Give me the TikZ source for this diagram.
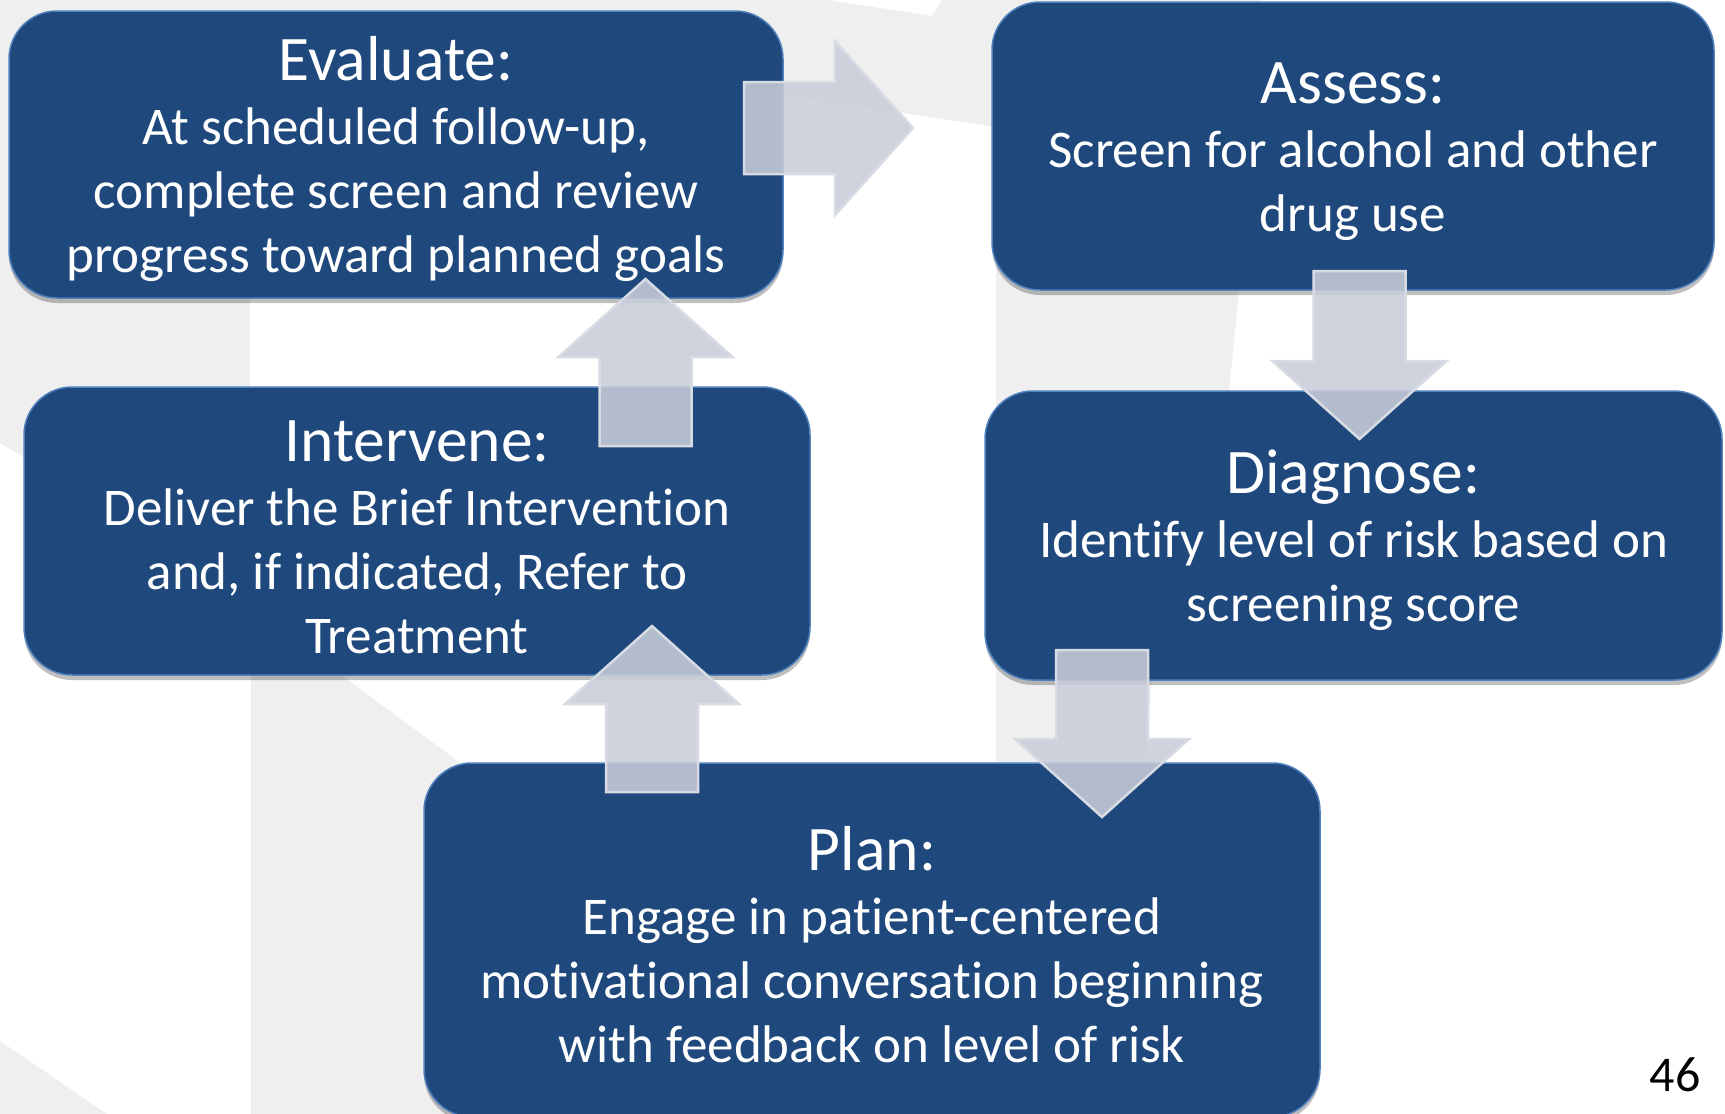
\documentclass[tikz,border=0pt]{standalone}
\usepackage{fontspec}
\setmainfont{Carlito}[Ligatures={NoCommon}]
\usetikzlibrary{positioning,calc,shadows}
\definecolor{boxblue}{HTML}{1F497D}
\definecolor{boxedge}{HTML}{4F81BD}
\definecolor{arrowgray}{HTML}{C8CDD9}
\definecolor{arrowedge}{HTML}{D8DBE3}
\definecolor{watermark}{HTML}{EFEFEF}
\newcommand{\stagetitle}[1]{{\fontsize{63.5}{64}\selectfont\rule{0pt}{53pt}#1}}

\begin{document}
\begin{tikzpicture}[
    x=1pt, y=-1pt,
    font=\fontsize{53}{64}\selectfont,
    block/.style={draw=boxedge, fill=boxblue, line width=1.5pt, rounded corners=48pt, text=white, align=center, inner sep=0pt, outer sep=0pt, drop shadow={shadow xshift=0pt, shadow yshift=-5pt, opacity=0.25, fill=black}},
    bigarrow/.style={fill=arrowgray, draw=arrowedge, line width=2.5pt, fill opacity=0.88,
        to path={let \p1=(\tikztostart), \p2=(\tikztotarget),
            \n1={veclen(\x2-\x1,\y2-\y1)}, \n2={atan2(\y2-\y1,\x2-\x1)} in
            {[shift={(\p1)}, rotate=\n2] (0,-46) -- (\n1-78,-46) -- (\n1-78,-87) -- (\n1,0) -- (\n1-78,87) -- (\n1-78,46) -- (0,46) -- cycle}}},
    pagenum/.style={font=\fontsize{50}{60}\selectfont, text=black, inner sep=0pt}
]
\useasboundingbox (0,0) rectangle (1725,1114);
\fill[white] (0,0) rectangle (1725,1114);

% Watermark in the background
\fill[watermark] (0,0) -- (827,0) -- (932,16) -- (942,0) -- (1262,0) -- (1239,293) -- (1229,390) -- (1151,680) -- (1146,763)
    -- (996,763) -- (996,127) -- (783,95) -- (250,95) -- (250,450) -- (25,458) -- (0,443) -- cycle;
\fill[watermark] (251,672) -- (337,672) -- (470,770) -- (470,1114) -- (251,1114) -- cycle;
\fill[watermark] (0,1041) -- (107,1114) -- (0,1114) -- cycle;

% Stages
\node[block, minimum width=774pt, minimum height=287pt] (evaluate) at (396,154.5)
    {\stagetitle{Evaluate:}\\At scheduled follow-up,\\complete screen and review\\progress toward planned goals};
\node[block, minimum width=722pt, minimum height=288pt, right=209pt of evaluate, yshift=8.5pt] (assess)
    {\stagetitle{Assess:}\\Screen for alcohol and other\\drug use};
\node[block, minimum width=786pt, minimum height=288pt, below=89pt of evaluate, xshift=21pt] (intervene)
    {\stagetitle{Intervene:}\\Deliver the Brief Intervention\\and, if indicated, Refer to\\Treatment};
\node[block, minimum width=737pt, minimum height=289pt, below=101pt of assess, xshift=0.5pt] (diagnose)
    {\stagetitle{Diagnose:}\\Identify level of risk based on\\screening score};
\node[block, minimum width=896pt, minimum height=354pt, below=88pt of intervene, xshift=455pt] (plan)
    {\stagetitle{Plan:}\\Engage in patient-centered\\motivational conversation beginning\\with feedback on level of risk};

% Arrows between stages
\draw[bigarrow] ([xshift=-39pt,yshift=26.5pt]evaluate.east) to ([xshift=-79pt,yshift=18pt]assess.west);
\draw[bigarrow] ([xshift=6.5pt,yshift=19pt]assess.south) to ([xshift=6pt,yshift=-48pt]diagnose.north);
\draw[bigarrow] ([xshift=-251.5pt,yshift=30pt]diagnose.south) to ([xshift=230pt,yshift=-54pt]plan.north);
\draw[bigarrow] ([xshift=-220pt,yshift=-29pt]plan.north) to ([xshift=235pt,yshift=49pt]intervene.south);
\draw[bigarrow] ([xshift=228.5pt,yshift=-59pt]intervene.north) to ([xshift=249.5pt,yshift=19pt]evaluate.south);

\node[pagenum] (page) at (1675,1075) {46};

\end{tikzpicture}
\end{document}
